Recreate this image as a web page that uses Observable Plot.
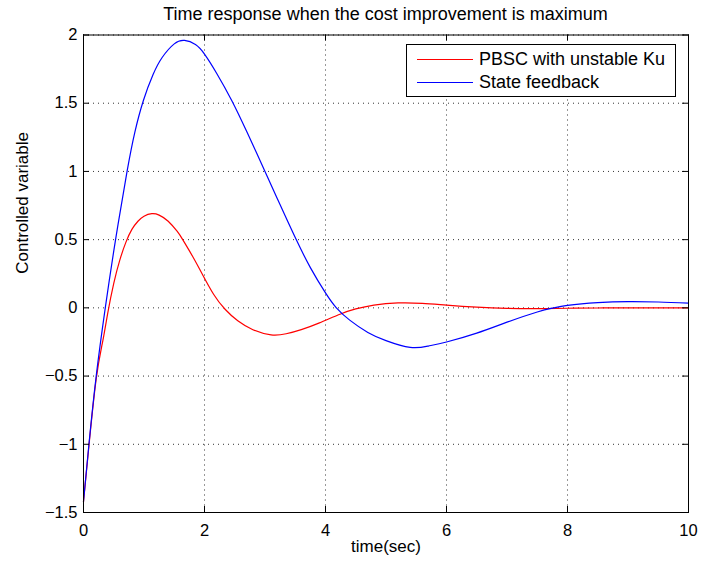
<!DOCTYPE html>
<html>
<head>
<meta charset="utf-8">
<script src="https://cdn.jsdelivr.net/npm/d3@7"></script>
<script src="https://cdn.jsdelivr.net/npm/@observablehq/plot@0.6"></script>
<style>
  body { margin: 0; background: #fff; }
  #wrap { position: relative; width: 701px; height: 565px; font-family: "Liberation Sans", Arial, sans-serif; color: #000; background: #fff; }
  #title { position: absolute; left: 83px; width: 605px; top: 3px; text-align: center; font-size: 18px; line-height: 22px; }
  #chart { position: absolute; left: 0; top: 24px; }
  #legend { position: absolute; left: 406px; top: 44px; width: 268px; height: 51px; border: 1px solid #000; background: #fff; font-size: 18px; }
  .lg-row { position: absolute; left: 10px; height: 22px; display: flex; align-items: center; }
  .lg-line { width: 56px; height: 0; border-top: 1.2px solid; margin-right: 6px; }
</style>
</head>
<body>
<div id="wrap">
  <div id="title">Time response when the cost improvement is maximum</div>
  <div id="chart"></div>
  <div id="legend"></div>
</div>
<script>
// ---- data ----
const xTicks = [0, 2, 4, 6, 8, 10];
const yTicks = [-1.5, -1, -0.5, 0, 0.5, 1, 1.5, 2];

const seriesNames = ["PBSC with unstable Ku", "State feedback"];
const seriesColors = ["#ff0000", "#0000ff"];

const tRed = [0, 0.09, 0.21, 0.32, 0.4, 0.5, 0.6, 0.7, 0.8, 0.9, 1.0, 1.13, 1.25, 1.4, 1.55, 1.64, 1.8, 1.96, 2.15, 2.34, 2.55, 2.8, 3.1, 3.35, 3.6, 3.9, 4.25, 4.5, 4.8, 5.2, 5.6, 6.0, 6.5, 7.0, 7.5, 8.0, 8.5, 9.0, 10.0];
const yRed = [-1.42, -1.01, -0.52, -0.24, -0.04, 0.18, 0.35, 0.48, 0.575, 0.635, 0.672, 0.69, 0.68, 0.635, 0.56, 0.5, 0.38, 0.25, 0.1, -0.01, -0.095, -0.16, -0.198, -0.19, -0.16, -0.11, -0.045, -0.008, 0.02, 0.036, 0.033, 0.02, 0.005, -0.004, -0.006, -0.003, -0.001, 0.0, 0.0];

const tBlue = [0, 0.09, 0.21, 0.36, 0.53, 0.72, 0.85, 0.99, 1.15, 1.3, 1.5, 1.67, 1.85, 2.0, 2.2, 2.45, 2.7, 3.0, 3.25, 3.5, 3.75, 4.0, 4.18, 4.4, 4.7, 5.0, 5.4, 5.7, 6.0, 6.5, 7.0, 7.5, 7.77, 8.0, 8.5, 9.0, 9.5, 10.0];
const yBlue = [-1.42, -1.0, -0.5, 0.0, 0.5, 1.0, 1.29, 1.52, 1.71, 1.835, 1.935, 1.96, 1.93, 1.86, 1.72, 1.52, 1.29, 1.0, 0.755, 0.515, 0.295, 0.11, 0.0, -0.09, -0.18, -0.24, -0.29, -0.28, -0.25, -0.185, -0.105, -0.03, 0.0, 0.018, 0.038, 0.046, 0.043, 0.034];

// ---- build ----
const red = tRed.map((t, i) => ({t, v: yRed[i]}));
const blue = tBlue.map((t, i) => ({t, v: yBlue[i]}));

const W = 701, H = 541, mT = 10.5, mB = 53, mL = 83, mR = 13;
const plotW = W - mL - mR, plotH = H - mT - mB;
const tickLen = 6;
const fmt = d3.format("");
const font = "'Liberation Sans', Arial, sans-serif";

const chart = Plot.plot({
  width: W, height: H,
  marginTop: mT, marginBottom: mB, marginLeft: mL, marginRight: mR,
  style: {fontFamily: font, fontSize: "16.5px", color: "#000", background: "transparent", overflow: "visible"},
  x: {domain: [0, 10], label: null},
  y: {domain: [-1.5, 2], label: null},
  marks: [
    Plot.gridX(xTicks, {stroke: "#000", strokeOpacity: 0.8, strokeDasharray: "1,4"}),
    Plot.gridY(yTicks, {stroke: "#000", strokeOpacity: 0.8, strokeDasharray: "1,4"}),
    Plot.line(red, {x: "t", y: "v", stroke: seriesColors[0], strokeWidth: 1.2, curve: "natural"}),
    Plot.line(blue, {x: "t", y: "v", stroke: seriesColors[1], strokeWidth: 1.2, curve: "natural"}),
    Plot.frame({stroke: "#000", strokeWidth: 1}),
    Plot.tickX(xTicks, {x: d => d, insetTop: plotH - tickLen, stroke: "#000"}),
    Plot.tickX(xTicks, {x: d => d, insetBottom: plotH - tickLen, stroke: "#000"}),
    Plot.tickY(yTicks, {y: d => d, insetRight: plotW - tickLen, stroke: "#000"}),
    Plot.tickY(yTicks, {y: d => d, insetLeft: plotW - tickLen, stroke: "#000"}),
    Plot.axisX(xTicks, {tickSize: 0, tickPadding: 12, tickFormat: fmt, label: null, fontSize: 16.5}),
    Plot.axisY(yTicks, {tickSize: 0, tickPadding: 6, tickFormat: fmt, label: null, fontSize: 16.5}),
    Plot.text(["time(sec)"], {frameAnchor: "bottom", dy: 39, text: d => d, fontSize: 17}),
    Plot.text(["Controlled variable"], {frameAnchor: "left", dx: -61, rotate: -90, text: d => d, fontSize: 17})
  ]
});
document.getElementById("chart").appendChild(chart);

// legend
const legend = document.getElementById("legend");
seriesNames.forEach((name, i) => {
  const row = document.createElement("div");
  row.className = "lg-row";
  row.style.top = (3 + i * 23.5) + "px";
  const ln = document.createElement("span");
  ln.className = "lg-line";
  ln.style.borderTopColor = seriesColors[i];
  const tx = document.createElement("span");
  tx.textContent = name;
  row.appendChild(ln);
  row.appendChild(tx);
  legend.appendChild(row);
});
</script>
</body>
</html>
